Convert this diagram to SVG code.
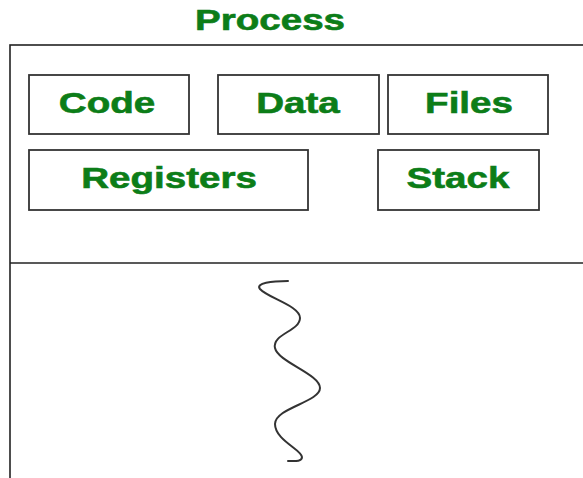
<svg xmlns="http://www.w3.org/2000/svg" width="583" height="478" viewBox="0 0 583 478">
  <style>
    .frame { fill: none; stroke: #222; stroke-width: 1.6; }
    .box { fill: #fff; stroke: #333; stroke-width: 1.8; }
    .label { font-family: "Liberation Sans", Arial, sans-serif; font-weight: bold; font-size: 29px; fill: #0c7d18; stroke: #0c7d18; stroke-width: 0.6; text-anchor: middle; }
    .thread { fill: none; stroke: #333; stroke-width: 2; stroke-linecap: round; }
  </style>
  <rect width="583" height="478" fill="#fff"/>

  <!-- title -->
  <text class="label" transform="translate(270,30) scale(1.33,1)">Process</text>

  <!-- process outline and divider -->
  <rect class="frame" x="10" y="45" width="600" height="500"/>
  <line class="frame" x1="10" y1="263" x2="583" y2="263"/>

  <g id="code">
    <rect class="box" x="29" y="75" width="160" height="59"/>
    <text class="label" transform="translate(107,113) scale(1.33,1)">Code</text>
  </g>
  <g id="data">
    <rect class="box" x="218" y="75" width="161" height="59"/>
    <text class="label" transform="translate(298,113) scale(1.33,1)">Data</text>
  </g>
  <g id="files">
    <rect class="box" x="388" y="75" width="160" height="59"/>
    <text class="label" transform="translate(469,113) scale(1.33,1)">Files</text>
  </g>
  <g id="registers">
    <rect class="box" x="29" y="150" width="279" height="60"/>
    <text class="label" transform="translate(169,188) scale(1.33,1)">Registers</text>
  </g>
  <g id="stack">
    <rect class="box" x="378" y="150" width="161" height="60"/>
    <text class="label" transform="translate(458,188) scale(1.33,1)">Stack</text>
  </g>

  <!-- thread -->
  <g id="connectors">
    <path class="thread" d="M288,281 C272,281 255,283 260,289 C268,298 300,306 300,318 C300,331 272,334 275,348 C278,362 320,374 320,388 C320,402 275,408 275,424 C275,440 302,450 302,457 C302,462 294,461 288,461"/>
  </g>
</svg>
